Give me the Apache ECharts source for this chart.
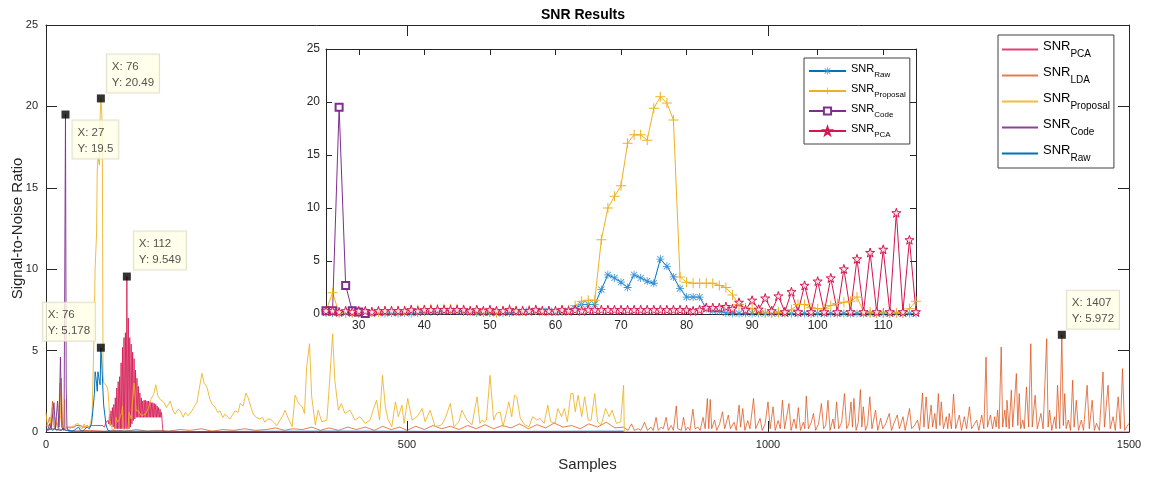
<!DOCTYPE html>
<html>
<head>
<meta charset="utf-8">
<script src="https://cdn.jsdelivr.net/npm/echarts@6/dist/echarts.min.js"></script>
<style>
  html, body { margin: 0; padding: 0; background: #fff; }
  #chart { width: 1152px; height: 477px; }
</style>
</head>
<body>
<div id="chart"></div>
<script>
'use strict';

// ---- data: [sample, SNR] ----
var raw_data = [
    [0,0.2],[3,0.1],[6,0.3],[9,0.1],[12,0.2],[15,0.1],[18,0.2],[21,0.1],[24,0.2],
    [25,0.1],[26,0.1],[27,0.1],[28,0.1],[29,0.1],[30,0.1],[31,0.05],[32,0.1],[33,0.1],[34,0.05],
    [35,0.1],[36,0.05],[37,0.1],[38,0.05],[39,0.1],[40,0.2],[41,0.2],[42,0.2],[43,0.3],[44,0.3],
    [45,0.3],[46,0.2],[47,0.2],[48,0.1],[49,0.1],[50,0.1],[51,0.05],[52,0.1],[53,0.1],[54,0.2],
    [55,0.2],[56,0.3],[57,0.3],[58,0.3],[59,0.3],[60,0.2],[61,0.2],[62,0.3],[63,0.5],[64,0.9],
    [65,0.9],[66,0.9],[67,2.3],[68,3.7],[69,3.4],[70,3.0],[71,2.5],[72,3.7],[73,3.4],[74,3.1],
    [75,2.9],[76,5.178],[77,4.5],[78,3.5],[79,2.4],[80,1.6],[81,1.6],[82,1.6],[83,0.5],[84,0.3],
    [85,0.25],[86,0.1],[87,0.05],[88,0.05],[89,0.05],[90,0.05],[91,0.05],[92,0.05],[93,0.05],[94,0.05],
    [95,0.05],[96,0.05],[97,0.05],[98,0.05],[99,0.05],[100,0.05],[101,0.05],[102,0.05],[103,0.05],[104,0.05],
    [105,0.05],[106,0.05],[107,0.05],[108,0.05],[109,0.05],[110,0.05],[111,0.05],[112,0.05],[113,0.05],[114,0.05],
    [115,0.05],[130,0.05],[200,0.03],[400,0.05],[600,0.03],[800,0.05]
];

var proposal_data = [
    [0,1.2],[2,0.3],[4,0.2],[6,0.6],[8,1.5],[10,0.4],[12,0.2],[14,0.9],[16,0.3],[18,1.2],[19,3.0],[20,1.0],[22,0.3],[24,0.2],
    [25,0.3],[26,2.0],[27,0.1],[28,0.1],[29,0.1],[30,0.1],[31,0.1],[32,0.2],[33,0.2],[34,0.3],
    [35,0.3],[36,0.3],[37,0.3],[38,0.4],[39,0.4],[40,0.4],[41,0.5],[42,0.5],[43,0.5],[44,0.5],
    [45,0.5],[46,0.4],[47,0.3],[48,0.3],[49,0.2],[50,0.2],[51,0.2],[52,0.3],[53,0.5],[54,0.3],
    [55,0.3],[56,0.4],[57,0.4],[58,0.3],[59,0.3],[60,0.3],[61,0.3],[62,0.4],[63,0.8],[64,1.2],
    [65,1.3],[66,1.3],[67,7.0],[68,10.0],[69,11.1],[70,12.1],[71,16.1],[72,16.9],[73,16.9],[74,16.4],
    [75,19.4],[76,20.49],[77,19.9],[78,18.3],[79,3.5],[80,3.0],[81,2.9],[82,2.9],[83,2.9],[84,2.9],
    [85,2.7],[86,2.5],[87,1.8],[88,0.9],[89,0.6],[90,0.5],[91,0.3],[92,0.1],[93,0.1],[94,0.2],
    [95,0.2],[96,0.4],[97,0.9],[98,0.9],[99,0.6],[100,0.5],[101,0.5],[102,0.8],[103,1.0],[104,1.1],
    [105,1.2],[106,1.6],[107,0.2],[108,0.2],[109,0.1],[110,0.1],[111,0.1],[112,0.1],[113,0.1],[114,0.5],
    [115,1.2],[118,0.8],[122,3.0],[125,1.3],[128,1.3],[132,1.0],[138,1.1],[142,1.5],[145,2.0],[149,2.3],
    [152,2.9],[155,2.2],[158,2.0],[163,1.85],[167,1.5],[172,1.9],[176,1.3],[179,1.1],[183,1.4],[186,1.3],
    [190,0.9],[193,1.2],[197,1.0],[202,1.3],[206,1.6],[209,1.8],[212,2.6],[216,3.6],[219,3.0],[223,2.75],
    [227,2.0],[230,1.7],[234,1.55],[238,1.2],[241,1.3],[245,0.9],[248,1.1],[252,0.9],[255,0.8],[259,1.1],
    [262,1.3],[266,1.2],[269,1.75],[273,1.6],[277,2.4],[280,2.1],[284,1.5],[287,1.1],[291,0.9],[296,0.8],
    [300,0.9],[303,0.6],[307,0.8],[311,0.79],[315,0.6],[320,0.4],[324,0.73],[328,1.0],[331,1.34],[336,0.79],
    [341,0.33],[345,2.26],[350,1.75],[355,1.55],[358,1.14],[361,3.99],[365,5.42],[368,2.16],[373,0.44],[377,1.34],
    [382,0.63],[389,0.73],[392,2.57],[397,6.03],[400,3.18],[405,1.34],[409,1.75],[414,1.14],[421,1.34],[428,0.73],
    [435,0.94],[442,0.53],[449,0.73],[453,1.34],[458,1.95],[462,0.73],[466,3.48],[470,1.55],[474,0.73],[479,0.33],
    [484,1.85],[488,0.94],[493,1.65],[496,0.53],[501,2.06],[507,0.73],[514,0.94],[521,1.44],[525,0.63],[532,1.34],
    [539,0.33],[548,0.44],[553,0.84],[560,1.75],[565,0.33],[572,0.63],[576,1.34],[583,0.73],[590,0.44],[597,2.16],
    [601,0.53],[604,0.73],[607,0.6],[610,0.73],[615,3.48],[620,0.73],[624,1.14],[629,1.24],[633,0.33],[638,1.24],
    [641,1.85],[645,0.94],[649,2.26],[652,2.16],[657,0.84],[663,0.44],[669,0.33],[674,0.94],[680,0.73],[684,0.84],
    [690,0.53],[695,1.65],[699,0.63],[705,0.53],[709,1.44],[714,0.94],[718,1.44],[722,0.63],[727,2.36],[730,2.36],
    [733,1.24],[737,2.26],[742,0.94],[746,2.16],[751,0.73],[755,0.73],[760,2.36],[764,0.63],[769,0.44],[775,1.44],
    [780,0.94],[784,1.34],[790,0.53],[796,0.63],[800,2.87],[801,0.0]
];

var code_data = [
    [0,0.1],[3,0.2],[5,0.5],[7,0.2],[9,0.3],[11,1.8],[13,0.2],[15,0.3],[16,1.9],[18,0.3],[20,4.6],[22,0.3],[24,0.1],
    [25,0.3],[26,0.3],[27,19.5],[28,2.7],[29,0.3],[30,0.2],[31,0.05],[160,0.0],[800,0.0]
];

var pca_data = [
    [0,0.1],[10,0.2],[20,0.1],[24,0.2],
    [25,0.3],[26,0.3],[27,0.2],[28,0.3],[29,0.2],[30,0.3],[31,0.3],[32,0.2],[33,0.3],[34,0.3],
    [35,0.3],[36,0.3],[37,0.3],[38,0.4],[39,0.3],[40,0.4],[41,0.4],[42,0.4],[43,0.4],[44,0.4],
    [45,0.4],[46,0.4],[47,0.3],[48,0.4],[49,0.3],[50,0.4],[51,0.3],[52,0.3],[53,0.4],[54,0.3],
    [55,0.3],[56,0.3],[57,0.4],[58,0.3],[59,0.3],[60,0.3],[61,0.4],[62,0.3],[63,0.4],[64,0.3],
    [65,0.4],[66,0.4],[67,0.4],[68,0.4],[69,0.4],[70,0.4],[71,0.4],[72,0.4],[73,0.4],[74,0.4],
    [75,0.4],[76,0.4],[77,0.4],[78,0.4],[79,0.4],[80,0.4],[81,0.3],[82,0.4],[83,0.6],[84,0.6],
    [85,0.6],[86,0.7],[87,0.5],[88,1.1],[89,0.4],[90,1.3],[91,0.45],[92,1.5],[93,0.3],[94,1.7],
    [95,0.2],[96,2.1],[97,0.2],[98,2.7],[99,0.2],[100,3.1],[101,0.2],[102,3.4],[103,0.2],[104,4.25],
    [105,0.2],[106,5.2],[107,0.2],[108,5.8],[109,0.2],[110,6.1],[111,0.2],[112,9.549],[113,0.2],[114,7.0],
    [115,0.2],[116,5.8],[117,0.3],[118,5.4],[119,0.5],[120,4.9],[121,0.7],[122,4.5],[123,0.8],[124,3.8],
    [125,0.9],[126,3.3],[127,0.9],[128,2.8],[129,0.9],[130,2.4],[131,0.9],[132,2.1],[133,0.9],[134,1.9],
    [135,0.9],[136,1.95],[137,0.9],[138,1.95],[139,0.9],[140,1.9],[141,0.9],[142,1.9],[143,0.9],[144,1.85],
    [145,0.9],[146,1.8],[147,0.9],[148,1.8],[149,0.9],[150,1.75],[151,0.9],[152,1.7],[153,0.9],[154,1.6],
    [155,0.9],[156,1.5],[157,0.9],[158,1.4],[159,0.9],[160,1.2],[161,0.6],[162,0.05],[170,0.0],[1500,0.0]
];

var lda_data = [
    [0,0.3],[3,0.6],[5,0.9],[7,0.3],[9,1.9],[11,0.4],[13,0.2],[15,0.6],[17,0.2],[19,1.1],[21,3.3],[23,0.3],
    [26,0.1],[40,0.05],[60,0.1],[80,0.05],[100,0.1],[110,0.05],[125,0.15],[140,0.05],[155,0.1],[170,0.05],
    [185,0.15],[200,0.1],[215,0.2],[230,0.05],[245,0.15],[260,0.1],[275,0.2],[290,0.1],[305,0.15],[318,0.25],
    [330,0.1],[342,0.2],[355,0.15],[368,0.3],[380,0.1],[392,0.25],[405,0.1],[418,0.3],[430,0.15],[442,0.3],
    [455,0.1],[466,0.35],[478,0.15],[490,0.3],[500,0.1],[512,0.35],[524,0.15],[536,0.4],[548,0.2],[560,0.35],
    [572,0.15],[584,0.4],[596,0.2],[608,0.45],[620,0.2],[632,0.4],[644,0.25],[656,0.5],[668,0.2],[680,0.45],
    [692,0.25],[704,0.55],[716,0.3],[728,0.4],[740,0.2],[752,0.5],[764,0.3],[776,0.6],[788,0.25],[800,0.3],
    [806,0.1],[811,0.5],[815,0.1],[820,0.2],[824,0.1],[829,0.6],[833,0.1],[838,0.3],[841,0.1],[845,0.9],
    [848,0.1],[852,0.3],[855,0.2],[859,0.9],[862,0.1],[866,0.4],[869,0.1],[873,1.6],[875,0.2],[877,0.3],
    [880,0.1],[883,0.9],[886,0.1],[889,0.3],[892,0.1],[896,1.4],[899,0.2],[903,0.3],[906,0.1],[910,0.9],
    [913,0.2],[916,2.06],[918,0.2],[920,2.0],[922,0.2],[926,0.73],[929,0.1],[933,0.5],[937,1.24],[940,0.2],
    [945,1.04],[948,0.2],[953,0.6],[956,0.1],[960,1.65],[962,0.3],[965,1.44],[968,0.1],[972,0.7],[975,0.2],
    [980,2.06],[983,0.2],[989,0.84],[992,0.1],[996,0.5],[1000,1.85],[1003,0.2],[1007,1.55],[1010,0.1],[1014,0.7],
    [1017,0.2],[1020,1.95],[1023,0.2],[1029,1.75],[1032,0.1],[1036,0.8],[1039,0.2],[1042,1.5],[1045,0.1],[1049,0.6],
    [1051,0.2],[1053,2.2],[1056,0.2],[1060,0.6],[1063,1.14],[1066,0.1],[1070,0.5],[1074,1.75],[1077,0.2],[1080,0.4],
    [1083,1.95],[1086,0.1],[1090,0.8],[1092,0.2],[1095,1.85],[1098,0.2],[1102,0.6],[1106,2.36],[1109,0.2],[1112,0.5],
    [1115,1.85],[1117,0.3],[1119,2.06],[1122,0.1],[1125,0.6],[1128,2.6],[1130,0.3],[1132,1.55],[1135,0.1],[1138,0.5],
    [1141,2.16],[1144,0.2],[1149,1.34],[1152,0.1],[1156,0.84],[1159,0.2],[1163,0.5],[1168,1.14],[1171,0.1],[1175,0.6],
    [1179,1.04],[1182,0.2],[1187,0.94],[1190,0.1],[1196,1.44],[1199,0.2],[1203,0.4],[1207,0.73],[1210,0.1],[1214,2.4],
    [1216,0.3],[1219,2.16],[1222,0.2],[1226,1.65],[1228,0.3],[1231,1.14],[1233,0.2],[1236,2.36],[1238,0.4],[1240,1.85],
    [1243,0.2],[1247,0.94],[1249,0.2],[1251,1.14],[1254,0.2],[1257,2.32],[1260,0.2],[1265,1.04],[1268,0.1],[1272,0.94],
    [1275,0.2],[1279,1.55],[1282,0.2],[1286,0.5],[1289,0.73],[1292,0.1],[1296,1.04],[1299,0.2],[1302,4.6],[1304,0.3],
    [1308,1.04],[1311,0.2],[1314,0.94],[1316,0.3],[1318,1.34],[1320,0.2],[1323,5.22],[1325,0.3],[1328,1.34],[1330,0.3],
    [1331,1.95],[1334,0.2],[1337,2.57],[1339,0.3],[1344,3.59],[1346,0.4],[1348,2.36],[1350,0.2],[1353,0.73],[1355,0.2],
    [1358,2.77],[1361,0.3],[1364,5.42],[1366,0.3],[1370,2.26],[1373,0.2],[1378,1.14],[1381,0.2],[1386,5.73],[1388,0.3],
    [1390,1.34],[1393,0.1],[1397,0.94],[1399,0.2],[1401,2.87],[1404,0.2],[1407,5.972],[1409,0.4],[1411,2.36],[1413,0.2],
    [1416,0.73],[1419,0.1],[1422,3.18],[1424,0.3],[1427,1.95],[1430,0.1],[1434,0.73],[1437,0.1],[1442,2.87],[1445,0.2],
    [1449,1.95],[1452,0.1],[1455,0.53],[1459,0.1],[1464,3.69],[1466,0.3],[1471,2.87],[1474,0.2],[1478,0.94],[1481,0.1],
    [1485,2.16],[1488,0.2],[1491,3.89],[1494,0.1],[1497,0.33],[1500,0.53]
];

// data tips shown on the main axes
var tip_points = [[76,20.49],[27,19.5],[112,9.549],[76,5.178],[1407,5.972]];

var main_x_ticks = [0, 1500, 500];
var main_y_ticks = [0, 25, 5];
var inset_x_range = [25, 115];
var inset_x_ticks = [30, 40, 50, 60, 70, 80, 90, 100, 110];
var inset_y_ticks = [0, 25, 5];

// ---- styles ----
var FONT = 'Liberation Sans, Arial, sans-serif';
var AXIS_COLOR = '#262626';
var C_RAW = '#0072BD', C_PROP = '#EDB120', C_CODE = '#7E2F8E', C_PCA = '#D4154F', C_LDA = '#D95319';

// box position of each data tip, relative to its marker
var tip_offsets = [[10, -40], [11, 10], [11, -41], [-54, -41], [9, -40]];

var SYM_PLUS = 'path://M4.5,0H5.5V4.5H10V5.5H5.5V10H4.5V5.5H0V4.5H4.5Z';
var SYM_STAR6 = 'path://M4.5,0H5.5V4.5H10V5.5H5.5V10H4.5V5.5H0V4.5H4.5Z' +
    'M1.5,0.8L5,4.3L8.5,0.8L9.2,1.5L5.7,5L9.2,8.5L8.5,9.2L5,5.7L1.5,9.2L0.8,8.5L4.3,5L0.8,1.5Z';
var SYM_PENTA = 'path://M5,0.3L6.12,3.76L9.76,3.75L6.81,5.89L7.94,9.35L5,7.2L2.06,9.35L3.19,5.89L0.24,3.75L3.88,3.76Z';

var sub_names = {
    PCA: 'PCA', LDA: 'LDA', Proposal: 'Proposal', Code: 'Code', Raw: 'Raw',
    PCA_in: 'PCA', Proposal_in: 'Proposal', Code_in: 'Code', Raw_in: 'Raw'
};

function in_window(arr) {
    return arr.filter(function (p) {
        return p[0] >= inset_x_range[0] && p[0] <= inset_x_range[1];
    });
}

function main_line(name, data, color, opacity) {
    return {
        name: name,
        type: 'line',
        xAxisIndex: 0,
        yAxisIndex: 0,
        data: data,
        symbol: 'none',
        color: color,
        lineStyle: { color: color, width: 1, opacity: opacity },
        clip: true,
        silent: true
    };
}

function inset_line(name, data, color, symbol, size, itemStyle) {
    return {
        name: name,
        type: 'line',
        xAxisIndex: 2,
        yAxisIndex: 2,
        data: in_window(data),
        symbol: symbol,
        symbolSize: size,
        color: color,
        lineStyle: { color: color, width: 1 },
        itemStyle: itemStyle,
        clip: true,
        silent: true,
        z: 3
    };
}

function box_axis(grid_index, pos, range, tick_len, extra) {
    var ax = {
        type: 'value',
        gridIndex: grid_index,
        position: pos,
        min: range[0],
        max: range[1],
        interval: range[2],
        axisLine: { show: true, onZero: false, lineStyle: { color: AXIS_COLOR, width: 1 } },
        axisTick: { show: true, inside: true, length: tick_len, lineStyle: { color: AXIS_COLOR } },
        axisLabel: { show: false },
        splitLine: { show: false }
    };
    if (extra) {
        for (var k in extra) ax[k] = extra[k];
    }
    return ax;
}

var legend_rich = function (main_size, sub_size, line_h) {
    return {
        m: { fontSize: main_size, fontFamily: FONT, color: '#000', verticalAlign: 'top' },
        s: { fontSize: sub_size, fontFamily: FONT, color: '#000', verticalAlign: 'bottom', lineHeight: line_h }
    };
};

var option = {
    animation: false,
    backgroundColor: '#fff',
    title: {
        text: 'SNR Results',
        left: 536,
        top: 3,
        textStyle: { fontFamily: FONT, fontSize: 14, fontWeight: 'bold', color: '#000' }
    },
    grid: [
        { left: 46, right: 23, top: 25, bottom: 45, containLabel: false, outerBoundsMode: 'none' },
        { left: 326, top: 49, width: 590, height: 265, show: true, backgroundColor: '#fff', borderWidth: 0,
          containLabel: false, outerBoundsMode: 'none' }
    ],
    legend: [
        {
            data: ['PCA', 'LDA', 'Proposal', 'Code', 'Raw'],
            orient: 'vertical',
            left: 998,
            top: 35,
            itemWidth: 36,
            itemHeight: 14,
            itemGap: 7,
            padding: [5, 4, 5, 3],
            borderColor: '#404040',
            borderWidth: 1,
            backgroundColor: '#fff',
            selectedMode: false,
            itemStyle: { opacity: 0 },
            formatter: function (n) { return '{m|SNR}{s|' + sub_names[n] + '}'; },
            textStyle: { rich: legend_rich(13, 10, 19) }
        },
        {
            data: ['Raw_in', 'Proposal_in', 'Code_in', 'PCA_in'],
            orient: 'vertical',
            left: 804,
            top: 58,
            itemWidth: 37,
            itemHeight: 9,
            itemGap: 4,
            padding: [5, 4, 5, 4],
            borderColor: '#404040',
            borderWidth: 1,
            backgroundColor: '#fff',
            selectedMode: false,
            z: 10,
            formatter: function (n) { return '{m|SNR}{s|' + sub_names[n] + '}'; },
            textStyle: { rich: legend_rich(11, 8, 16) }
        }
    ],
    xAxis: [
        box_axis(0, 'bottom', main_x_ticks, 11, {
            name: 'Samples',
            nameLocation: 'middle',
            nameGap: 25,
            nameMoveOverlap: false,
            nameTextStyle: { fontFamily: FONT, fontSize: 15, color: AXIS_COLOR },
            axisLabel: { show: true, margin: 7, color: AXIS_COLOR, fontFamily: FONT, fontSize: 11,
                         formatter: function (v) { return String(v); } }
        }),
        box_axis(0, 'top', main_x_ticks, 11),
        box_axis(1, 'bottom', [inset_x_range[0], inset_x_range[1]], 6, {
            interval: undefined,
            axisTick: { show: true, inside: true, length: 6, lineStyle: { color: AXIS_COLOR }, customValues: inset_x_ticks },
            axisLabel: { show: true, margin: 6, color: AXIS_COLOR, fontFamily: FONT, fontSize: 12, customValues: inset_x_ticks }
        }),
        box_axis(1, 'top', [inset_x_range[0], inset_x_range[1]], 6, {
            interval: undefined,
            axisTick: { show: true, inside: true, length: 6, lineStyle: { color: AXIS_COLOR }, customValues: inset_x_ticks }
        })
    ],
    yAxis: [
        box_axis(0, 'left', main_y_ticks, 11, {
            name: 'Signal-to-Noise Ratio',
            nameLocation: 'middle',
            nameGap: 21,
            nameMoveOverlap: false,
            nameTextStyle: { fontFamily: FONT, fontSize: 15, color: AXIS_COLOR },
            axisLabel: { show: true, margin: 8, color: AXIS_COLOR, fontFamily: FONT, fontSize: 11 }
        }),
        box_axis(0, 'right', main_y_ticks, 11),
        box_axis(1, 'left', inset_y_ticks, 6, {
            axisLabel: { show: true, margin: 6, color: AXIS_COLOR, fontFamily: FONT, fontSize: 12 }
        }),
        box_axis(1, 'right', inset_y_ticks, 6)
    ],
    series: [
        main_line('LDA', lda_data, C_LDA, 0.75),
        main_line('PCA', pca_data, C_PCA, 0.8),
        main_line('Proposal', proposal_data, C_PROP, 0.85),
        main_line('Code', code_data, C_CODE, 0.9),
        main_line('Raw', raw_data, C_RAW, 1),
        {
            name: 'tips',
            type: 'scatter',
            xAxisIndex: 0,
            yAxisIndex: 0,
            symbol: 'rect',
            symbolSize: 8,
            itemStyle: { color: '#000' },
            z: 5,
            silent: true,
            data: tip_points.map(function (p, i) {
                return {
                    value: p,
                    label: { position: tip_offsets[i] }
                };
            }),
            label: {
                show: true,
                align: 'left',
                verticalAlign: 'top',
                formatter: function (p) { return 'X: ' + p.value[0] + '\nY: ' + p.value[1]; },
                fontFamily: FONT,
                fontSize: 11.5,
                lineHeight: 16,
                color: '#262626',
                backgroundColor: '#FFFFE6',
                borderColor: '#DADAC4',
                borderWidth: 1,
                padding: [4, 5, 2, 5]
            }
        },
        inset_line('Raw_in', raw_data, C_RAW, SYM_STAR6, 8, { color: '#3A93D6' }),
        inset_line('Proposal_in', proposal_data, C_PROP, SYM_PLUS, 10, { color: C_PROP }),
        inset_line('Code_in', code_data, C_CODE, 'emptyRect', 7, { color: C_CODE, borderWidth: 1 }),
        inset_line('PCA_in', pca_data, C_PCA, SYM_PENTA, 9,
            { color: 'rgba(255,230,236,0.9)', borderColor: C_PCA, borderWidth: 1 })
    ]
};

var chart = echarts.init(document.getElementById('chart'), null, { renderer: 'canvas' });
chart.setOption(option);
</script>
</body>
</html>
